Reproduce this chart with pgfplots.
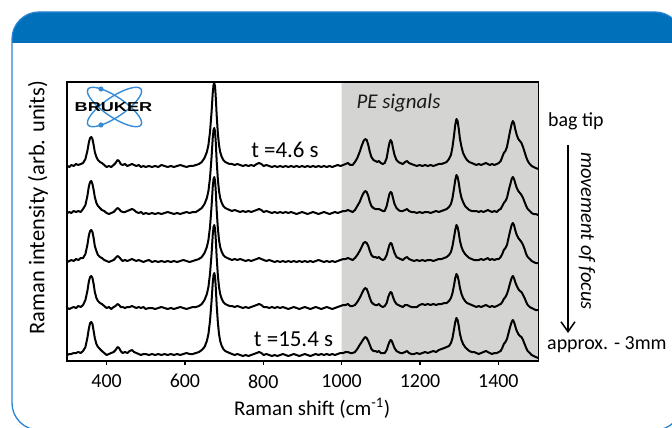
\documentclass[border=0pt]{standalone}
\usepackage{fontspec}
\setmainfont{Carlito}
\newfontfamily\logofont{Liberation Sans}
\usepackage{pgfplots}
\pgfplotsset{compat=1.18}
\usepackage{pgfplotstable}
\usetikzlibrary{arrows.meta}
\definecolor{hdr}{RGB}{0,112,186}
\definecolor{frm}{RGB}{40,132,210}
\definecolor{orbit}{RGB}{55,140,215}
\definecolor{pe}{RGB}{212,213,210}

% heights above each trace's own baseline (px)
\pgfplotstableread{
x y1 y2 y3 y4 y5
300 1 1 0 1 0
305 0 2 1 0 1
310 2 1 2 1 1
316 1 3 1 2 2
322 3 2 3 1 2
328 2 3 2 3 3
334 3 2 4 2 2
340 4 5 4 4 4
346 8 9 8 9 8
351 16 18 17 18 17
355 25 28 27 28 27
358 29 32 31 32 32
361 30 33 32 33 33
364 28 30 30 31 31
367 22 24 24 25 24
370 15 17 16 17 17
374 10 11 11 11 11
378 7 8 7 8 8
383 5 6 5 6 6
388 4 4 4 5 4
394 2 3 2 3 2
400 0 1 1 1 0
406 1 0 0 2 1
412 0 1 1 0 2
418 2 2 2 2 3
423 4 4 4 3 5
428 7 6 6 5 8
432 6 5 5 4 7
436 3 3 3 2 4
441 2 2 1 2 2
447 3 2 2 1 3
453 1 3 1 2 2
459 2 4 2 2 4
465 3 5 3 3 5
470 2 4 2 2 3
476 1 2 1 1 2
482 2 1 2 2 1
488 0 2 1 1 0
494 1 0 0 2 1
500 0 1 1 0 1
508 1 0 2 1 0
516 0 1 0 1 1
524 1 0 1 0 0
532 0 1 0 1 1
540 2 0 1 2 0
548 1 1 0 1 1
556 0 2 1 0 0
564 1 1 0 1 1
572 0 0 1 0 0
580 1 1 0 1 1
588 2 0 1 2 0
596 1 1 2 1 1
604 0 2 1 0 2
612 1 1 0 1 1
620 1 2 1 2 1
628 2 2 2 2 2
636 3 4 3 3 3
643 5 6 5 5 5
650 9 10 9 9 8
656 15 16 15 15 14
660 22 23 22 22 21
664 35 36 35 35 34
668 55 57 56 55 54
671 74 76 75 74 72
673 82 84 83 82 80
675 84 86 85 84 82
677 80 82 81 80 78
679 68 70 69 68 66
681 52 53 52 52 50
684 34 35 34 34 33
687 22 23 22 22 21
690 15 16 15 15 14
694 10 11 10 10 9
698 7 8 7 7 6
703 5 6 5 5 4
708 4 5 4 4 3
714 3 4 3 3 2
720 3 3 2 3 1
727 2 4 3 2 0
734 3 3 2 3 1
741 2 2 3 2 0
748 1 3 2 1 -1
755 2 2 1 2 0
762 1 3 2 1 -1
769 2 2 1 2 0
776 1 3 2 3 1
783 3 4 3 4 2
789 4 5 4 5 3
795 3 4 3 4 2
801 1 2 2 2 0
808 2 3 1 2 1
815 1 2 2 1 0
822 0 1 1 2 -1
829 1 2 0 1 0
836 0 1 1 2 -1
843 1 2 0 1 0
850 0 1 1 2 1
857 1 2 0 1 0
864 0 1 1 0 -1
871 1 2 0 1 0
878 0 1 1 2 1
885 1 0 0 1 0
892 0 1 1 0 -1
899 1 2 0 1 0
906 0 1 1 2 1
913 1 0 0 1 0
920 0 1 1 0 -1
927 1 2 0 1 0
934 0 1 1 2 1
941 1 0 2 1 0
948 0 1 1 0 1
955 1 2 0 1 0
962 0 1 1 2 1
969 1 0 0 1 0
976 0 1 1 0 1
983 1 2 0 1 0
990 2 1 1 2 1
997 1 2 2 3 2
1004 2 3 3 4 2
1010 3 3 3 4 3
1016 4 4 4 5 3
1022 2 3 3 3 2
1028 2 2 2 3 2
1034 5 4 4 4 3
1040 9 8 7 7 6
1046 15 12 11 11 10
1051 21 17 15 15 13
1056 26 21 19 19 16
1060 28 23 20 21 18
1064 27 22 19 20 17
1068 22 18 16 16 14
1072 15 12 11 11 10
1076 10 8 7 7 6
1081 7 6 5 5 4
1086 6 5 5 4 4
1091 5 5 4 4 3
1095 6 5 5 5 4
1100 4 4 3 3 2
1105 3 3 2 2 2
1110 4 3 3 3 2
1115 9 8 7 6 5
1119 18 15 13 12 10
1122 24 20 17 15 13
1125 27 22 19 17 15
1128 25 21 18 16 14
1131 19 16 14 12 11
1135 12 10 9 8 7
1140 7 6 5 5 4
1145 5 4 4 4 3
1150 4 3 3 3 2
1156 3 3 2 2 2
1162 5 4 4 4 3
1167 6 5 5 4 4
1172 4 3 3 3 2
1178 3 2 2 2 1
1185 2 2 1 2 1
1192 1 1 2 2 2
1199 2 2 1 4 1
1206 1 1 2 5 2
1213 2 2 1 4 3
1220 1 2 2 5 2
1227 2 1 2 4 3
1234 1 2 1 5 4
1241 2 3 2 4 3
1248 3 2 3 5 5
1255 3 3 3 5 6
1262 4 4 4 6 7
1268 5 5 5 6 8
1274 8 7 7 8 9
1279 12 10 10 11 12
1283 20 16 16 16 17
1287 32 26 25 24 26
1290 42 34 32 31 33
1293 48 39 37 35 37
1296 46 37 35 33 35
1299 38 31 29 28 29
1302 28 23 21 21 21
1306 20 16 15 15 15
1310 14 12 11 11 11
1315 10 8 8 8 8
1320 7 6 6 6 6
1326 5 4 4 5 4
1332 4 3 3 4 3
1338 3 3 2 3 3
1344 2 3 2 2 2
1350 3 2 2 3 1
1356 2 3 3 2 2
1362 3 2 2 3 3
1368 4 3 3 4 4
1373 3 4 4 3 3
1378 2 3 2 2 2
1384 3 2 3 3 1
1390 2 3 2 2 2
1396 3 2 3 3 2
1401 4 4 3 4 3
1406 6 5 5 5 4
1410 10 8 8 7 7
1414 14 11 12 10 11
1418 16 13 14 12 13
1422 20 16 17 15 16
1426 28 23 24 20 22
1430 36 29 31 26 28
1434 43 35 37 31 33
1437 46 37 39 33 35
1440 44 35 37 31 33
1443 38 31 32 27 29
1447 32 26 27 23 24
1451 28 23 24 20 21
1455 26 21 22 18 19
1459 24 19 20 17 18
1463 20 16 17 14 15
1467 15 12 13 11 11
1471 10 8 8 7 7
1475 6 5 5 4 4
1480 3 3 3 2 2
1485 1 1 1 1 0
1490 0 0 0 0 -1
1495 -1 0 -1 -1 -2
1502 -2 -1 -1 -1 -3
}\spectra

\begin{document}
\begin{tikzpicture}[x=1bp,y=1bp]
\useasboundingbox (0,0) rectangle (672,427);
% slide frame
\begin{scope}
  \clip (0,0) rectangle (672,427);
  \begin{scope}
    \clip[rounded corners=27bp] (12,-3) rectangle (682,415);
    \fill[hdr] (0,384) rectangle (700,420);
  \end{scope}
  \draw[frm, line width=1.3bp, rounded corners=27bp] (12,-3) rectangle (682,415);
\end{scope}

\begin{axis}[
  at={(67bp,66bp)}, anchor=south west,
  width=471.3bp, height=279bp, scale only axis,
  xmin=299, xmax=1502, ymin=0, ymax=279,
  xtick={400,600,...,1400},
  ytick=\empty,
  xtick pos=left,
  tick align=outside,
  major tick length=4bp,
  axis line style={line width=1.3bp},
  tick style={black, line width=1.3bp},
  tick label style={font=\fontsize{20}{20}\selectfont},
  xticklabel style={yshift=-6bp},
  /pgf/number format/assume math mode=true,
  /pgf/number format/1000 sep={},
  xlabel={Raman shift (cm\textsuperscript{-1})},
  ylabel={Raman intensity (arb. units)},
  label style={font=\fontsize{21}{21}\selectfont},
  xlabel style={at={(axis description cs:0.52,0)}, anchor=base, yshift=-54bp},
  ylabel style={at={(axis description cs:-0.0616,0.55)}, anchor=center, font=\fontsize{22.5}{22.5}\selectfont},
  axis on top,
]
  \addplot[fill=pe, draw=none, forget plot] coordinates {(1000,0) (1000,279) (1502,279) (1502,0)} \closedcycle;
  \addplot[black, line width=2bp, line join=round] table[x=x, y expr=\thisrow{y1}+194] {\spectra};
  \addplot[black, line width=2bp, line join=round] table[x=x, y expr=\thisrow{y2}+147] {\spectra};
  \addplot[black, line width=2bp, line join=round] table[x=x, y expr=\thisrow{y3}+99] {\spectra};
  \addplot[black, line width=2bp, line join=round] table[x=x, y expr=\thisrow{y4}+52] {\spectra};
  \addplot[black, line width=2bp, line join=round] table[x=x, y expr=\thisrow{y5}+6] {\spectra};
\end{axis}

% annotations
\node[anchor=base, font=\fontsize{23}{23}\selectfont] at (285,270) {t =4.6 s};
\node[anchor=base, font=\fontsize{23}{23}\selectfont] at (293.5,81) {t =15.4 s};
\node[anchor=base, font=\itshape\fontsize{21}{21}\selectfont, text=black!90] at (398.5,319) {PE signals};
\node[anchor=base west, font=\fontsize{20}{20}\selectfont, inner sep=0pt] at (548,301) {bag tip};
\node[anchor=base west, font=\fontsize{20}{20}\selectfont, inner sep=0pt] at (547,78) {approx. - 3mm};
\draw[line width=1.5bp, -{Straight Barb[length=10bp,width=14bp]}] (568,282) -- (568,94);
\node[rotate=-90, font=\itshape\fontsize{20.5}{20.5}\selectfont] at (587,196) {movement of focus};

% logo
\draw[orbit, line width=1.4bp, rotate around={34:(114.5,320)}] (114.5,320) ellipse (32 and 10);
\draw[orbit, line width=1.4bp, rotate around={-34:(114.5,320)}] (114.5,320) ellipse (32 and 10);
\fill[orbit] (101,338) circle (2.6);
\fill[orbit] (101,302) circle (2.6);
\node[font=\logofont\bfseries\fontsize{13}{13}\selectfont, xscale=1.4] at (113.5,320) {BRUKER};
\end{tikzpicture}
\end{document}
